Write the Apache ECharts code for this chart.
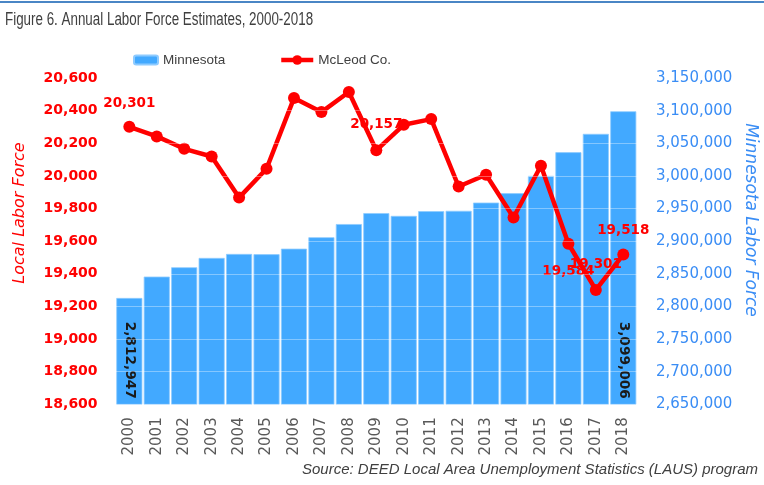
<!DOCTYPE html>
<html><head><meta charset="utf-8">
<script src="https://cdn.jsdelivr.net/npm/echarts@6/dist/echarts.min.js"></script>
<style>html,body{margin:0;padding:0;background:#fff}#c{width:764px;height:485px}</style>
</head><body><div id="c"></div>
<script>
const years = ['2000','2001','2002','2003','2004','2005','2006','2007','2008','2009','2010','2011','2012','2013','2014','2015','2016','2017','2018'];
const minnesota = [2812947, 2845700, 2860000, 2874300, 2880400, 2880000, 2888500, 2906000, 2926200, 2943000, 2938700, 2946000, 2946500, 2959100, 2973500, 3000000, 3036300, 3064400, 3099006];
const mcleod = [20301, 20242, 20166, 20119, 19867, 20044, 20477, 20391, 20514, 20157, 20313, 20348, 19935, 20007, 19745, 20062, 19584, 19301, 19518];
const mcleodLabels = {0: ['top', 10], 9: ['top', 13], 16: ['bottom', 15], 17: ['top', 12], 18: ['top', 11]};
const mnLabeled = [0, 18];

const RED = '#FF0000', BLUE = '#42A9FF', AXBLUE = '#3A8DF5';
const fmt = v => Number(v).toLocaleString('en-US');

const chart = echarts.init(document.getElementById('c'), null, {renderer: 'canvas'});
chart.setOption({
  animation: false,
  backgroundColor: '#fff',
  legend: [
    {data: ['Minnesota'], left: 128, top: 48, itemWidth: 24, itemHeight: 9, itemGap: 0,
     textStyle: {fontFamily: '"Liberation Sans", sans-serif', fontSize: 13.5, color: '#404040'}},
    {data: ['McLeod Co.'], left: 274, top: 48, itemWidth: 32, itemHeight: 12, itemGap: 0,
     lineStyle: {width: 4.5},
     textStyle: {fontFamily: '"Liberation Sans", sans-serif', fontSize: 13.5, color: '#404040'}}
  ],
  grid: {left: 115.6, right: 127, top: 78, bottom: 80.7, containLabel: false},
  xAxis: {
    type: 'category', data: years,
    axisLine: {show: false}, axisTick: {show: false},
    axisLabel: {rotate: 90, margin: 13, fontFamily: 'DejaVu Sans', fontSize: 15, color: '#595959'}
  },
  yAxis: [
    {type: 'value', min: 18600, max: 20600, interval: 200, z: 10,
     axisLine: {show: false}, axisTick: {show: false},
     splitLine: {show: true, lineStyle: {color: 'rgba(255,255,255,0.35)', width: 1}},
     axisLabel: {formatter: fmt, margin: 18, fontFamily: 'DejaVu Sans', fontWeight: 'bold', fontSize: 14, color: RED}},
    {type: 'value', min: 2650000, max: 3150000, interval: 50000,
     axisLine: {show: false}, axisTick: {show: false}, splitLine: {show: false},
     axisLabel: {formatter: fmt, margin: 19, fontFamily: 'DejaVu Sans', fontSize: 15, color: AXBLUE}}
  ],
  series: [
    {name: 'Minnesota', type: 'bar', yAxisIndex: 1, barCategoryGap: '5%',
     itemStyle: {color: BLUE, borderColor: '#8ECBFF', borderWidth: 0.8},
     data: minnesota.map((v, i) => mnLabeled.includes(i) ? {
       value: v,
       label: {show: true, position: 'insideBottom', distance: 6, rotate: -90, align: 'right', verticalAlign: 'middle',
               formatter: p => fmt(p.value), fontFamily: 'DejaVu Sans', fontWeight: 'bold', fontSize: 13.7, color: '#1a1a1a'}
     } : v)},
    {name: 'McLeod Co.', type: 'line', yAxisIndex: 0, z: 5,
     symbol: 'circle', symbolSize: 12,
     lineStyle: {color: RED, width: 4.5}, itemStyle: {color: RED},
     data: mcleod.map((v, i) => mcleodLabels[i] ? {
       value: v,
       label: {show: true, position: mcleodLabels[i][0], distance: mcleodLabels[i][1],
               formatter: p => fmt(p.value), fontFamily: 'DejaVu Sans', fontWeight: 'bold', fontSize: 13.5, color: RED}
     } : v)}
  ],
  graphic: [
    {type: 'rect', shape: {x: 0, y: 1, width: 764, height: 2}, style: {fill: '#4A86C5'}},
    {type: 'text', x: 5, y: 20, scaleX: 0.765,
     style: {text: 'Figure 6. Annual Labor Force Estimates, 2000-2018', fontFamily: '"Liberation Sans", sans-serif', fontSize: 17.5, fill: '#404040', align: 'left', verticalAlign: 'middle'}},
    {type: 'text', x: 20, y: 213, rotation: Math.PI / 2,
     style: {text: 'Local Labor Force', fontFamily: 'DejaVu Sans', fontStyle: 'italic', fontSize: 16, fill: RED, align: 'center', verticalAlign: 'middle'}},
    {type: 'text', x: 750, y: 220, rotation: -Math.PI / 2,
     style: {text: 'Minnesota Labor Force', fontFamily: 'DejaVu Sans', fontStyle: 'italic', fontSize: 17, fill: AXBLUE, align: 'center', verticalAlign: 'middle'}},
    {type: 'text', right: 6, top: 462,
     style: {text: 'Source: DEED Local Area Unemployment Statistics (LAUS) program', fontFamily: '"Liberation Sans", sans-serif', fontStyle: 'italic', fontSize: 15, fill: '#404040'}}
  ]
});
</script></body></html>
